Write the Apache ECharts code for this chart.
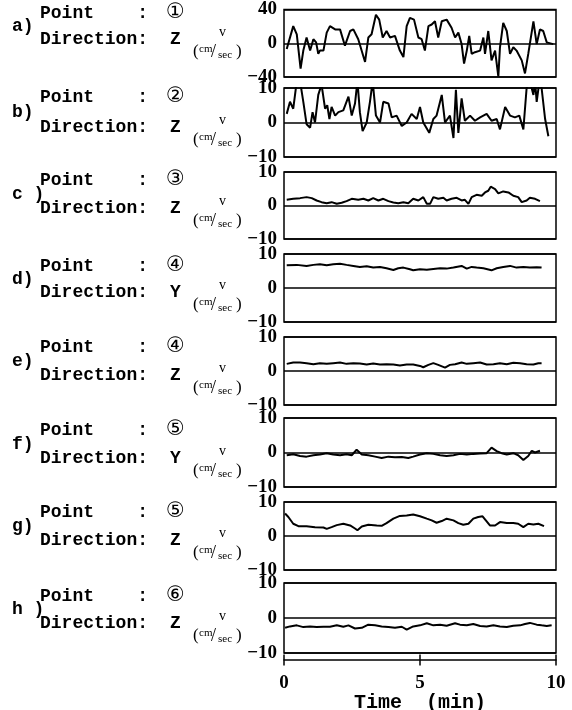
<!DOCTYPE html>
<html>
<head>
<meta charset="utf-8">
<script src="https://cdn.jsdelivr.net/npm/echarts@6/dist/echarts.min.js"></script>
<style>
  html, body { margin: 0; padding: 0; background: #fff; }
  #chart { width: 572px; height: 710px; }
</style>
</head>
<body>
<div id="chart"></div>
<script>
// Velocity records, [time (min), v (cm/sec)]
const velocityA = [[0.10,-6.8],[0.34,20.3],[0.47,10.6],[0.61,-30],[0.71,-8.7],[0.83,6.8],[0.96,-8.7],[1.08,4.8],[1.18,1],[1.26,-12.6],[1.32,-8.7],[1.45,-8.7],[1.57,12.6],[1.69,20.3],[1.88,16.4],[2.06,16.4],[2.24,-2.9],[2.43,14.5],[2.55,16.4],[2.73,4.8],[2.98,-22.2],[3.10,6.8],[3.22,10.6],[3.38,33.8],[3.50,28],[3.63,6.8],[3.77,14.5],[3.90,6.8],[4.08,8.7],[4.26,-8.7],[4.39,-16.4],[4.51,20.3],[4.63,30],[4.78,28],[4.94,6.8],[5.06,4.8],[5.18,-8.7],[5.31,20.3],[5.43,22.2],[5.55,26],[5.67,6.8],[5.80,26],[5.98,28],[6.16,18.4],[6.29,6.8],[6.41,12.6],[6.53,-1],[6.62,-24.2],[6.72,-8.7],[6.81,8.7],[6.90,-12.6],[7.02,-10.6],[7.21,-8.7],[7.33,6.8],[7.39,-12.6],[7.51,14.5],[7.63,-20.3],[7.76,-8.7],[7.88,-39.6],[7.94,-4.8],[8.06,24.2],[8.19,14.5],[8.31,-12.6],[8.43,-4.8],[8.55,-8.7],[8.74,-20.3],[8.86,-35.8],[8.98,-12.6],[9.17,26],[9.29,-1],[9.41,16.4],[9.53,14.5],[9.66,1],[9.90,-1]];
const velocityB = [[0.10,2.5],[0.22,6.0],[0.34,4.0],[0.47,12],[0.59,12],[0.71,6.0],[0.83,-0.5],[0.96,-1.5],[1.05,3.0],[1.14,0],[1.26,8.0],[1.38,11],[1.51,4.0],[1.59,5.0],[1.67,1.0],[1.75,4.5],[1.88,2.0],[2.00,3.0],[2.18,3.5],[2.37,7.5],[2.49,2.0],[2.61,5.5],[2.70,12],[2.79,3.0],[2.89,-2.5],[3.04,0],[3.16,6.0],[3.26,12],[3.38,2.0],[3.53,0],[3.65,6.0],[3.84,5.5],[3.96,1.5],[4.14,2.0],[4.33,-1.0],[4.51,0],[4.69,2.5],[4.88,1.0],[5.00,4.5],[5.12,0],[5.34,-3.0],[5.49,1.0],[5.61,2.0],[5.80,8.0],[5.92,0],[6.10,2.0],[6.23,-4.5],[6.32,9.5],[6.41,-3.0],[6.53,7.0],[6.65,0.5],[6.84,2.0],[7.02,0.5],[7.21,1.5],[7.45,2.5],[7.63,0.5],[7.82,1.0],[7.94,-2.0],[8.13,4.5],[8.31,2.0],[8.49,1.5],[8.65,2.0],[8.80,-2.0],[8.92,10],[9.04,12],[9.17,8.0],[9.23,12],[9.29,6.0],[9.39,12],[9.47,10],[9.60,1.0],[9.72,-4.0]];
const velocityC = [[0.10,1.7],[0.34,2.0],[0.59,2.2],[0.83,2.5],[1.02,2.2],[1.20,1.5],[1.38,1.0],[1.57,0.7],[1.75,1.0],[1.94,0.5],[2.12,0.8],[2.30,1.3],[2.49,2.0],[2.73,1.7],[2.92,2.0],[3.10,1.5],[3.28,2.2],[3.47,1.5],[3.65,2.0],[3.84,1.3],[4.02,0.9],[4.20,0.7],[4.39,1.0],[4.57,0.7],[4.75,2.0],[4.94,1.5],[5.12,2.5],[5.25,0.5],[5.37,0.5],[5.49,2.5],[5.67,2.0],[5.86,2.3],[5.98,1.5],[6.16,2.0],[6.35,2.3],[6.53,1.5],[6.65,1.7],[6.78,0.5],[6.90,2.5],[7.08,3.2],[7.27,2.9],[7.39,3.9],[7.51,4.4],[7.60,5.6],[7.76,4.9],[7.88,3.6],[8.06,4.2],[8.25,3.9],[8.43,2.9],[8.61,2.5],[8.74,1.0],[8.92,1.5],[9.04,2.3],[9.23,2.0],[9.41,1.3]];
const velocityD = [[0.10,6.7],[0.47,6.8],[0.83,6.5],[1.08,6.8],[1.32,7.0],[1.57,6.7],[1.81,7.0],[2.06,7.1],[2.30,6.8],[2.55,6.5],[2.79,6.2],[3.04,6.4],[3.28,6.0],[3.53,6.2],[3.77,5.8],[4.02,5.3],[4.20,5.8],[4.39,6.0],[4.63,5.5],[4.75,5.2],[5.00,5.5],[5.25,5.4],[5.49,5.6],[5.74,5.8],[5.98,5.7],[6.23,6.0],[6.53,6.5],[6.72,5.7],[6.90,6.2],[7.08,6.0],[7.33,5.8],[7.63,5.2],[7.82,5.8],[8.06,6.2],[8.31,6.5],[8.55,6.0],[8.80,6.2],[9.04,6.0],[9.29,6.1],[9.47,6.0]];
const velocityE = [[0.10,2.1],[0.34,2.5],[0.59,2.5],[0.83,2.3],[1.08,2.0],[1.32,2.3],[1.57,2.1],[1.81,2.3],[2.06,2.5],[2.30,2.1],[2.55,2.3],[2.79,2.2],[3.04,1.9],[3.28,2.2],[3.53,1.9],[3.77,2.0],[4.02,1.9],[4.26,1.6],[4.51,1.9],[4.75,1.9],[5.00,1.5],[5.12,1.1],[5.31,1.8],[5.49,2.3],[5.67,1.8],[5.92,1.0],[6.10,1.8],[6.29,2.0],[6.53,2.5],[6.72,2.1],[6.96,2.3],[7.21,2.5],[7.45,1.9],[7.70,2.0],[7.94,2.3],[8.19,2.0],[8.43,2.4],[8.68,2.3],[8.92,2.0],[9.17,1.9],[9.35,2.3],[9.47,2.3]];
const velocityF = [[0.10,-0.8],[0.34,-0.5],[0.59,-1.0],[0.83,-1.2],[1.08,-0.8],[1.32,-0.6],[1.57,-0.2],[1.81,-0.6],[2.06,-0.8],[2.30,-0.5],[2.49,-0.8],[2.67,0.8],[2.86,-0.6],[3.10,-0.8],[3.35,-1.2],[3.59,-1.6],[3.84,-1.2],[4.08,-1.4],[4.33,-1.3],[4.57,-1.6],[4.75,-1.2],[5.00,-0.6],[5.25,-0.2],[5.49,-0.4],[5.74,-0.8],[5.98,-1.0],[6.23,-0.8],[6.47,-0.4],[6.72,-0.6],[6.96,-0.4],[7.21,-0.3],[7.45,-0.2],[7.63,1.4],[7.82,0.4],[8.00,-0.2],[8.19,-0.6],[8.43,-0.2],[8.61,-0.8],[8.80,-2.2],[8.98,-1.0],[9.11,0.5],[9.23,0],[9.41,0.5]];
const velocityG = [[0.04,6.6],[0.16,5.6],[0.34,3.6],[0.53,2.9],[0.83,2.9],[1.14,2.6],[1.45,2.5],[1.57,2.1],[1.75,2.6],[1.94,3.2],[2.18,3.6],[2.43,3.1],[2.61,2.2],[2.70,1.7],[2.86,2.8],[3.10,3.3],[3.41,3.1],[3.59,3.0],[3.77,3.8],[4.02,5.1],[4.26,5.9],[4.51,6.0],[4.75,6.3],[5.00,5.8],[5.25,5.1],[5.43,4.6],[5.61,3.9],[5.80,4.4],[5.98,5.1],[6.23,4.6],[6.41,3.8],[6.59,3.3],[6.78,3.6],[6.96,5.1],[7.14,5.6],[7.30,5.8],[7.45,4.3],[7.57,3.1],[7.76,3.1],[7.94,4.1],[8.19,3.8],[8.43,3.8],[8.61,3.6],[8.80,2.6],[8.98,3.6],[9.17,3.4],[9.35,3.6],[9.56,2.9]];
const velocityH = [[0.04,-2.8],[0.22,-2.4],[0.47,-2.1],[0.71,-2.6],[0.96,-2.4],[1.20,-2.6],[1.45,-2.5],[1.69,-2.5],[1.94,-2.1],[2.18,-2.5],[2.37,-2.1],[2.61,-3.0],[2.86,-2.8],[3.10,-1.9],[3.35,-2.1],[3.59,-2.4],[3.84,-2.6],[4.08,-2.8],[4.33,-2.5],[4.51,-3.3],[4.75,-2.4],[5.00,-2.1],[5.25,-1.5],[5.49,-2.1],[5.74,-1.9],[5.98,-2.2],[6.29,-1.5],[6.47,-1.9],[6.72,-2.1],[6.96,-1.7],[7.21,-2.3],[7.45,-2.4],[7.70,-2.1],[7.94,-2.4],[8.19,-2.6],[8.43,-2.2],[8.68,-2.1],[8.86,-1.7],[9.04,-1.4],[9.29,-1.9],[9.47,-2.1],[9.66,-2.3],[9.84,-2.1]];

// Panel captions and scales
const panelLetters = ['a)', 'b)', 'c )', 'd)', 'e)', 'f)', 'g)', 'h )'];
const pointMarks   = ['①', '②', '③', '④', '④', '⑤', '⑤', '⑥'];
const directions   = ['Z', 'Z', 'Z', 'Y', 'Z', 'Y', 'Z', 'Z'];
const yLimits      = [40, 10, 10, 10, 10, 10, 10, 10];
const timeTicks    = [0, 5, 10];
const records = [velocityA, velocityB, velocityC, velocityD, velocityE, velocityF, velocityG, velocityH];

// Layout of the stacked panels
const PLOT_LEFT = 284, PLOT_WIDTH = 272;
const gridTops    = [8, 88, 172, 254, 337, 418, 502, 583];
const gridHeights = [69, 69, 67, 68, 68, 69, 68, 70];
const pointRowY   = [13, 97, 180, 266, 347, 430, 512, 596];
const dirRowY     = [39, 127, 208, 292, 375, 458, 540, 623];

const MONO = '"Liberation Mono", "DejaVu Sans Mono", monospace';
const SERIF = '"Liberation Serif", "DejaVu Serif", serif';

const grids = [], xAxes = [], yAxes = [], series = [], graphics = [];

records.forEach((rec, i) => {
  grids.push({
    left: PLOT_LEFT, width: PLOT_WIDTH, top: gridTops[i], height: gridHeights[i],
    show: true, borderColor: '#000', borderWidth: 1.5, backgroundColor: 'transparent'
  });
  xAxes.push({
    gridIndex: i, type: 'value', min: 0, max: 10, interval: 5,
    axisLine: { show: false }, axisTick: { show: false },
    axisLabel: { show: false }, splitLine: { show: false }
  });
  const lim = yLimits[i];
  yAxes.push({
    gridIndex: i, type: 'value', min: -lim, max: lim, interval: lim,
    axisLine: { show: false }, axisTick: { show: false },
    axisLabel: {
      color: '#000', fontFamily: SERIF, fontWeight: 'bold', fontSize: 19, margin: 7,
      formatter: v => (v < 0 ? '\u2212' + Math.abs(v) : String(v))
    },
    splitLine: { show: true, lineStyle: { color: '#000', width: 1.5 } }
  });
  series.push({
    type: 'line', xAxisIndex: i, yAxisIndex: i, data: rec,
    showSymbol: false, clip: true, animation: false,
    lineStyle: { color: '#000', width: 2 }
  });

  const midY = (pointRowY[i] + dirRowY[i]) / 2;
  const txt = (x, y, text, font) => graphics.push({
    type: 'text', x, y,
    style: Object.assign({ text, fill: '#000', textVerticalAlign: 'middle', verticalAlign: 'middle' }, font)
  });
  const bold18 = { font: 'bold 18px ' + MONO };
  txt(12, midY, panelLetters[i], bold18);
  txt(40, pointRowY[i], 'Point    :', bold18);
  txt(166, pointRowY[i], pointMarks[i], { font: '21px "DejaVu Sans", "Noto Sans CJK JP", sans-serif' });
  txt(40, dirRowY[i], 'Direction:', bold18);
  txt(170, dirRowY[i], directions[i], bold18);
  // unit: v (cm/sec)
  const d = dirRowY[i];
  txt(219, d - 7, 'v', { font: '14px ' + SERIF });
  txt(193, d + 13, '(', { font: '17px ' + SERIF });
  txt(199, d + 10, 'cm', { font: '11px ' + SERIF });
  txt(211, d + 13, '/', { font: '18px ' + SERIF });
  txt(218, d + 16, 'sec', { font: '11px ' + SERIF });
  txt(236, d + 13, ')', { font: '17px ' + SERIF });
});

// Common time axis under the panels
const tIdx = records.length;
grids.push({ left: PLOT_LEFT, width: PLOT_WIDTH, top: 658, height: 6, show: false });
xAxes.push({
  gridIndex: tIdx, type: 'value', min: timeTicks[0], max: timeTicks[timeTicks.length - 1],
  interval: timeTicks[1] - timeTicks[0], position: 'bottom',
  axisLine: { show: true, lineStyle: { color: '#000', width: 1.5 } },
  axisTick: { show: true, length: 6, lineStyle: { color: '#000', width: 1.5 } },
  axisLabel: { color: '#000', fontFamily: SERIF, fontWeight: 'bold', fontSize: 19, margin: 14 },
  splitLine: { show: false },
  name: 'Time  (min)', nameLocation: 'middle', nameGap: 30,
  nameTextStyle: { color: '#000', fontFamily: MONO, fontWeight: 'bold', fontSize: 20 }
});
xAxes.push({
  gridIndex: tIdx, type: 'value', min: timeTicks[0], max: timeTicks[timeTicks.length - 1],
  interval: timeTicks[1] - timeTicks[0], position: 'bottom',
  axisLine: { show: false },
  axisTick: { show: true, inside: true, length: 5, lineStyle: { color: '#000', width: 1.5 } },
  axisLabel: { show: false }, splitLine: { show: false }
});
yAxes.push({ gridIndex: tIdx, type: 'value', show: false, min: 0, max: 1 });

const chart = echarts.init(document.getElementById('chart'), null, { renderer: 'canvas' });
chart.setOption({
  backgroundColor: '#fff',
  animation: false,
  grid: grids,
  xAxis: xAxes,
  yAxis: yAxes,
  series: series,
  graphic: { elements: graphics }
});
</script>
</body>
</html>
